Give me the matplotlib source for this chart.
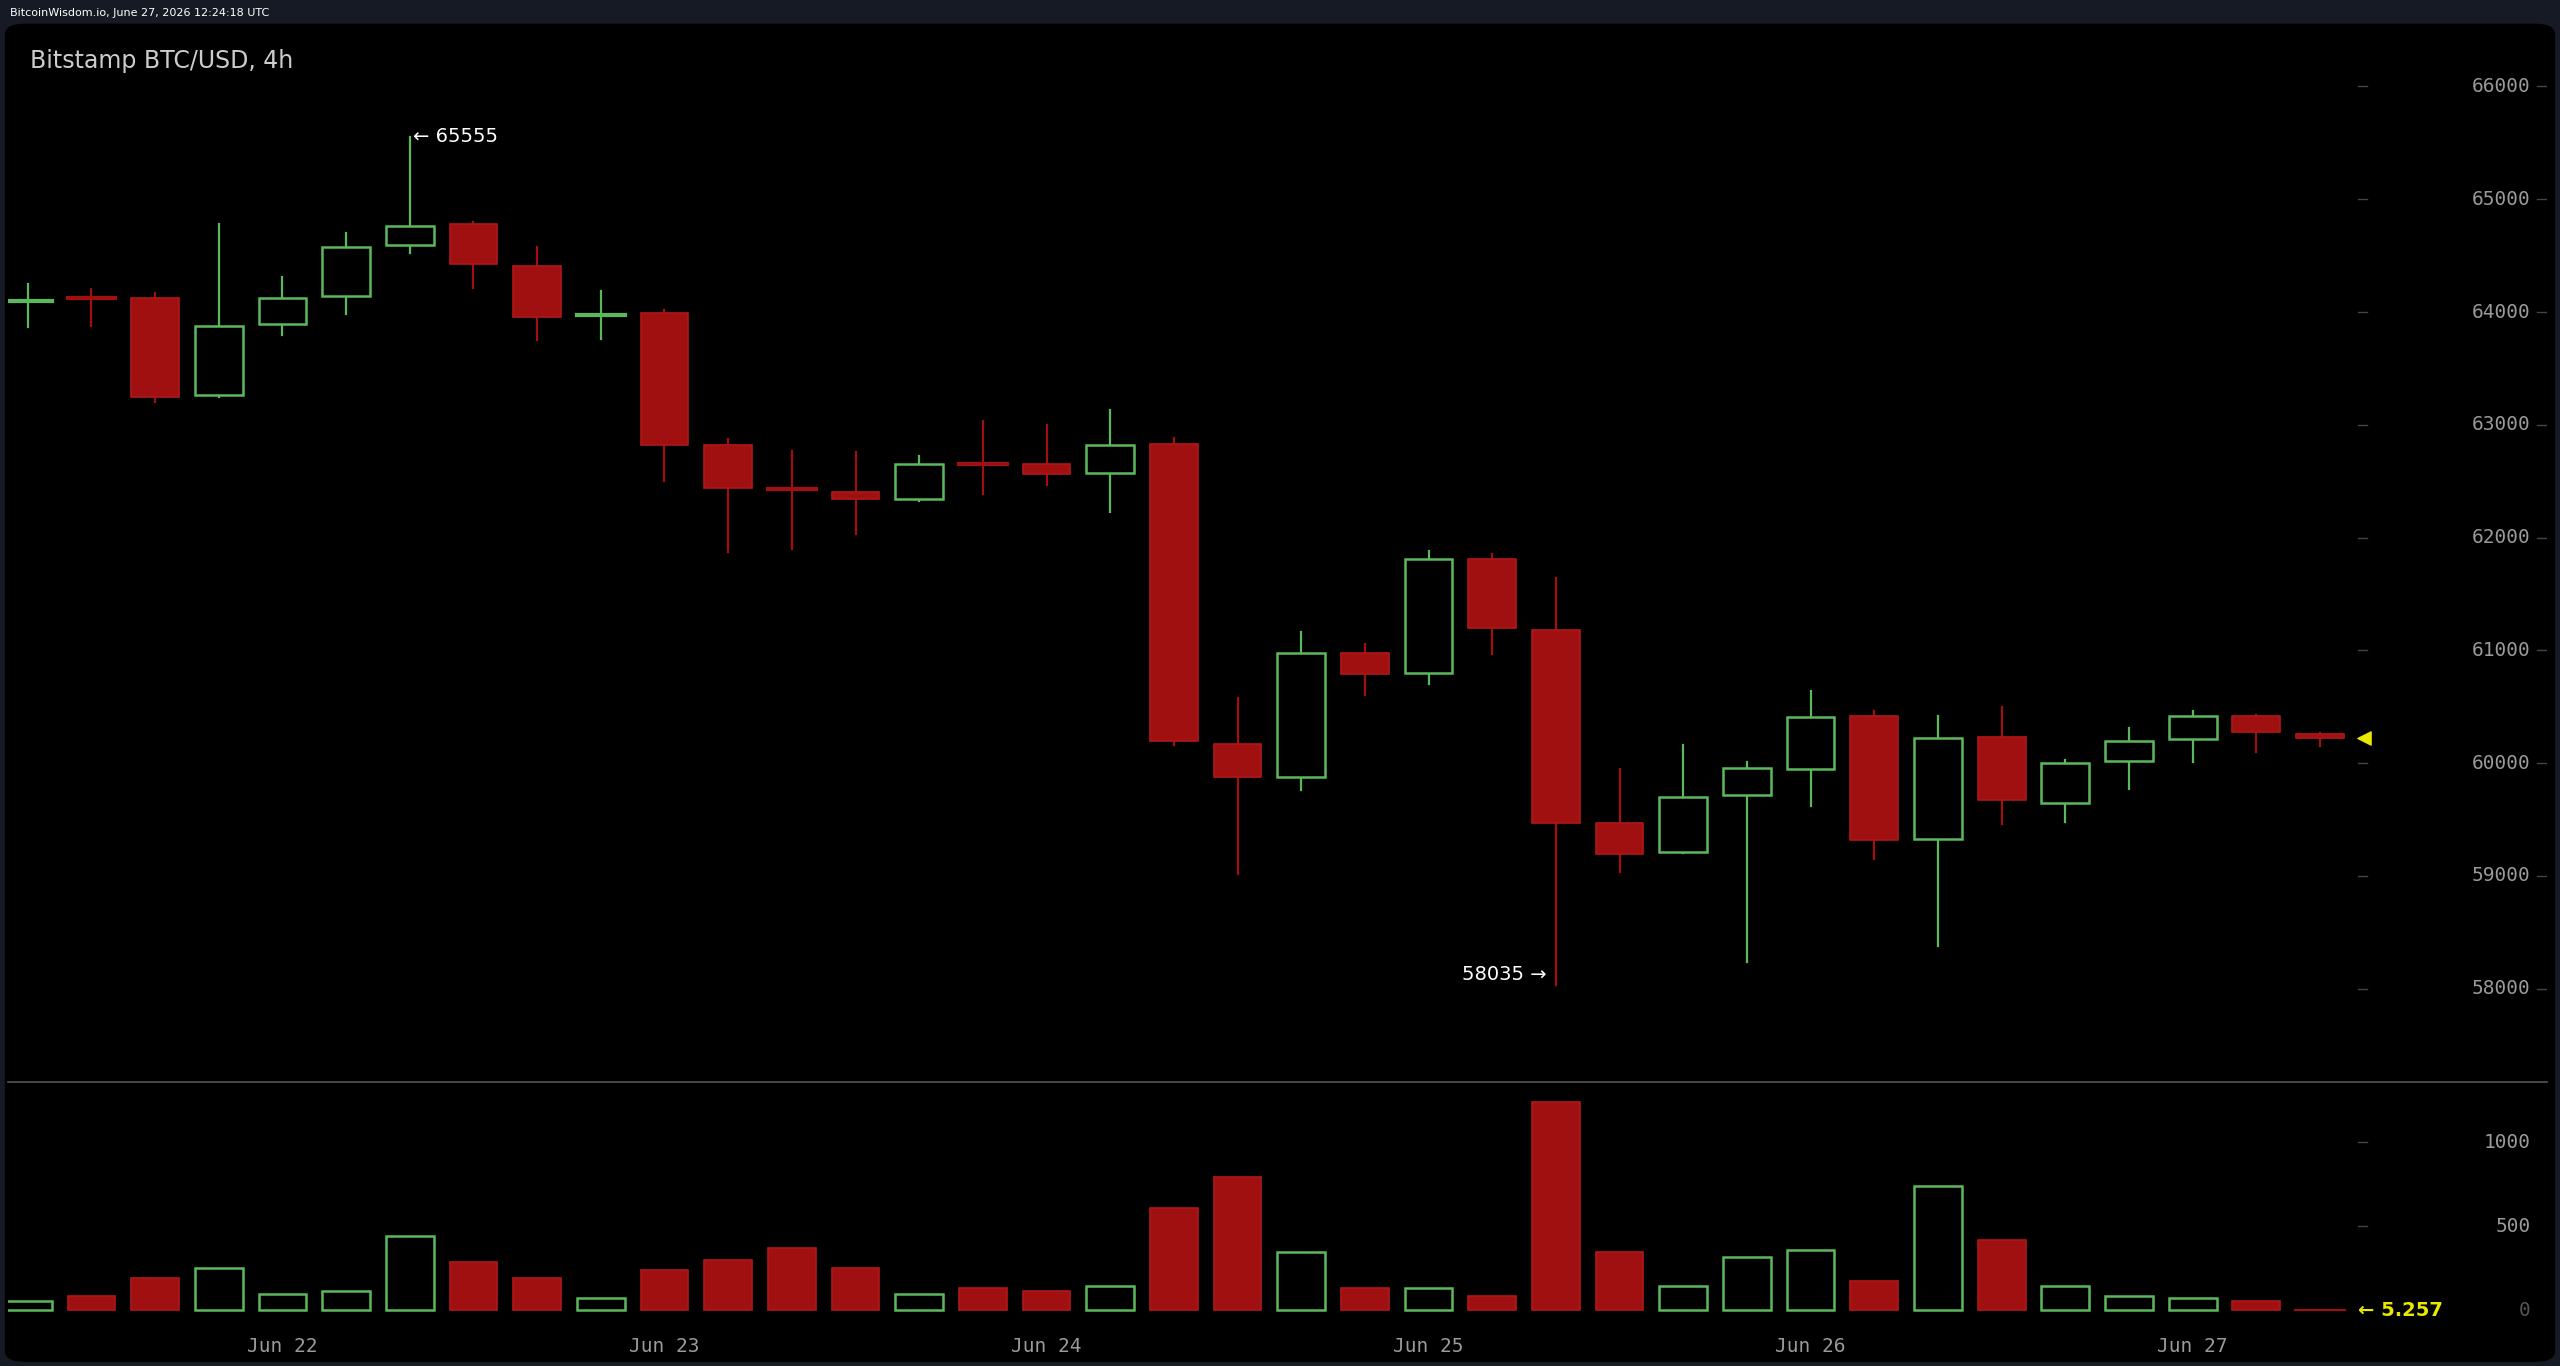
import matplotlib
matplotlib.use("Agg")
import matplotlib.pyplot as plt
from matplotlib.patches import FancyBboxPatch, Rectangle

opens  = [64100,64120,64120,63260,63890,64140,64590,64780,64410,63970,63990,62820,62430,62400,62340,62650,62650,62570,62830,60170,59880,60980,60800,61810,61180,59470,59210,59720,59950,60420,59330,60230,59650,60020,60210,60420,60260]
highs  = [64250,64200,64170,64780,64310,64700,65555,64800,64580,64190,64020,62870,62770,62760,62720,63030,63000,63130,62880,60580,61160,61060,61880,61850,61640,59950,60160,60010,60640,60460,60420,60500,60030,60310,60460,60430,60270]
lows   = [63870,63880,63200,63250,63800,63980,64520,64210,63750,63760,62500,61870,61900,62030,62320,62390,62470,62230,60160,59020,59760,60600,60700,60970,58035,59030,59200,58240,59620,59150,58380,59460,59480,59770,60010,60100,60150]
closes = [64110,64110,63250,63880,64120,64580,64760,64430,63960,63990,62820,62440,62410,62340,62650,62640,62560,62820,60200,59880,60980,60790,61810,61200,59470,59190,59700,59960,60410,59320,60220,59670,60000,60200,60420,60280,60220]
volumes = [58,87,195,250,97,115,445,290,195,75,240,300,370,250,97,135,115,145,610,795,350,135,135,87,1240,350,145,320,360,175,740,420,145,87,75,55,5.257]
date_labels = ["Jun 22","Jun 23","Jun 24","Jun 25","Jun 26","Jun 27"]
date_idx = [4,10,16,22,28,34]
price_ticks = [58000,59000,60000,61000,62000,63000,64000,65000,66000]
vol_ticks = [500,1000]

RED = "#a01010"; GREEN = "#5cb85c"; GREY = "#9a9a9a"
W, H = 1568, 837
fig = plt.figure(figsize=(25.6,13.66), dpi=100, facecolor="#161a25")
fig.text(6/W, 1-8/H, "BitcoinWisdom.io, June 27, 2026 12:24:18 UTC", color="white", fontsize=8, va="center", ha="left")
bg = FancyBboxPatch((3/W, 0.003), 1-6/W, 1-17/H, boxstyle="round,pad=0,rounding_size=0.008",
                    transform=fig.transFigure, facecolor="black", edgecolor="none", zorder=-10)
fig.patches.append(bg)

xl = ((5-17)/39, (1560-17)/39)
axp = fig.add_axes([5/W, 1-663/H, (1555)/W, (663-14)/H])
axv = fig.add_axes([5/W, 1-815/H, (1555)/W, (815-663)/H])
for ax in (axp, axv):
    ax.set_zorder(5)
    ax.set_facecolor("none"); ax.set_xlim(*xl)
    ax.set_xticks([]); ax.set_yticks([])
    for s in ax.spines.values(): s.set_visible(False)
axp.set_ylim(57172, 66564)
axv.set_ylim(-117, 1359)
axp.axhline(57172, color="#555555", lw=1.2, clip_on=False)

bw = 0.75
for i,(o,h,l,c) in enumerate(zip(opens,highs,lows,closes)):
    up = c >= o
    col = GREEN if up else RED
    lo_b, hi_b = min(o,c), max(o,c)
    axp.plot([i,i],[hi_b,h], color=col, lw=1.6, zorder=2)
    axp.plot([i,i],[l,lo_b], color=col, lw=1.6, zorder=2)
    if hi_b - lo_b < 40:
        axp.plot([i-bw/2,i+bw/2],[o,o], color=col, lw=3, zorder=3)
    elif up:
        axp.add_patch(Rectangle((i-bw/2, lo_b), bw, hi_b-lo_b, facecolor="black", edgecolor=col, lw=1.8, zorder=3))
    else:
        axp.add_patch(Rectangle((i-bw/2, lo_b), bw, hi_b-lo_b, facecolor=RED, edgecolor="#b01818", lw=1.2, zorder=3))
    if up:
        axv.add_patch(Rectangle((i-bw/2, 0), bw, volumes[i], facecolor="black", edgecolor=GREEN, lw=1.8))
    else:
        axv.add_patch(Rectangle((i-bw/2, 0), bw, volumes[i], facecolor=RED, edgecolor="#b01818", lw=1.2))

axv.plot([35.6,36.4],[0,0], color=RED, lw=1.5)

xlab = (1550-17)/39
for p in price_ticks:
    axp.text(xlab, p, str(p), color=GREY, fontsize=14, family="DejaVu Sans Mono", ha="right", va="center")
    axp.plot([(1444-17)/39,(1450-17)/39],[p,p], color="#444444", lw=1)
    axp.plot([(1554-17)/39,(1560-17)/39],[p,p], color="#444444", lw=1)
for v in vol_ticks:
    axv.text(xlab, v, str(v), color=GREY, fontsize=14, family="DejaVu Sans Mono", ha="right", va="center")
    axv.plot([(1444-17)/39,(1450-17)/39],[v,v], color="#444444", lw=1)
axv.text(xlab, 0, "0", color="#555555", fontsize=14, family="DejaVu Sans Mono", ha="right", va="center")
axv.text((1444-17)/39, 0, "← " + str(volumes[-1]), color="#e8e800", fontsize=14, weight="bold", ha="left", va="center")

axp.text(0.03, 66230, "Bitstamp BTC/USD, 4h", color="#cccccc", fontsize=17, ha="left", va="center")
ih = highs.index(max(highs)); il = lows.index(min(lows))
axp.text(ih+0.05, max(highs)-0, "← %d" % max(highs), color="white", fontsize=14, ha="left", va="center")
axp.text(il-0.15, min(lows)+90, "%d →" % min(lows), color="white", fontsize=14, ha="right", va="center")
axp.scatter([(1448-17)/39], [closes[-1]], marker="<", s=90, color="#e8e800", zorder=5)

for d,i in zip(date_labels, date_idx):
    axv.text(i, -117 - 10*9.71, d, color=GREY, fontsize=14, family="DejaVu Sans Mono", ha="center", va="center", clip_on=False)

fig.savefig("out.png", dpi=100, facecolor=fig.get_facecolor())
